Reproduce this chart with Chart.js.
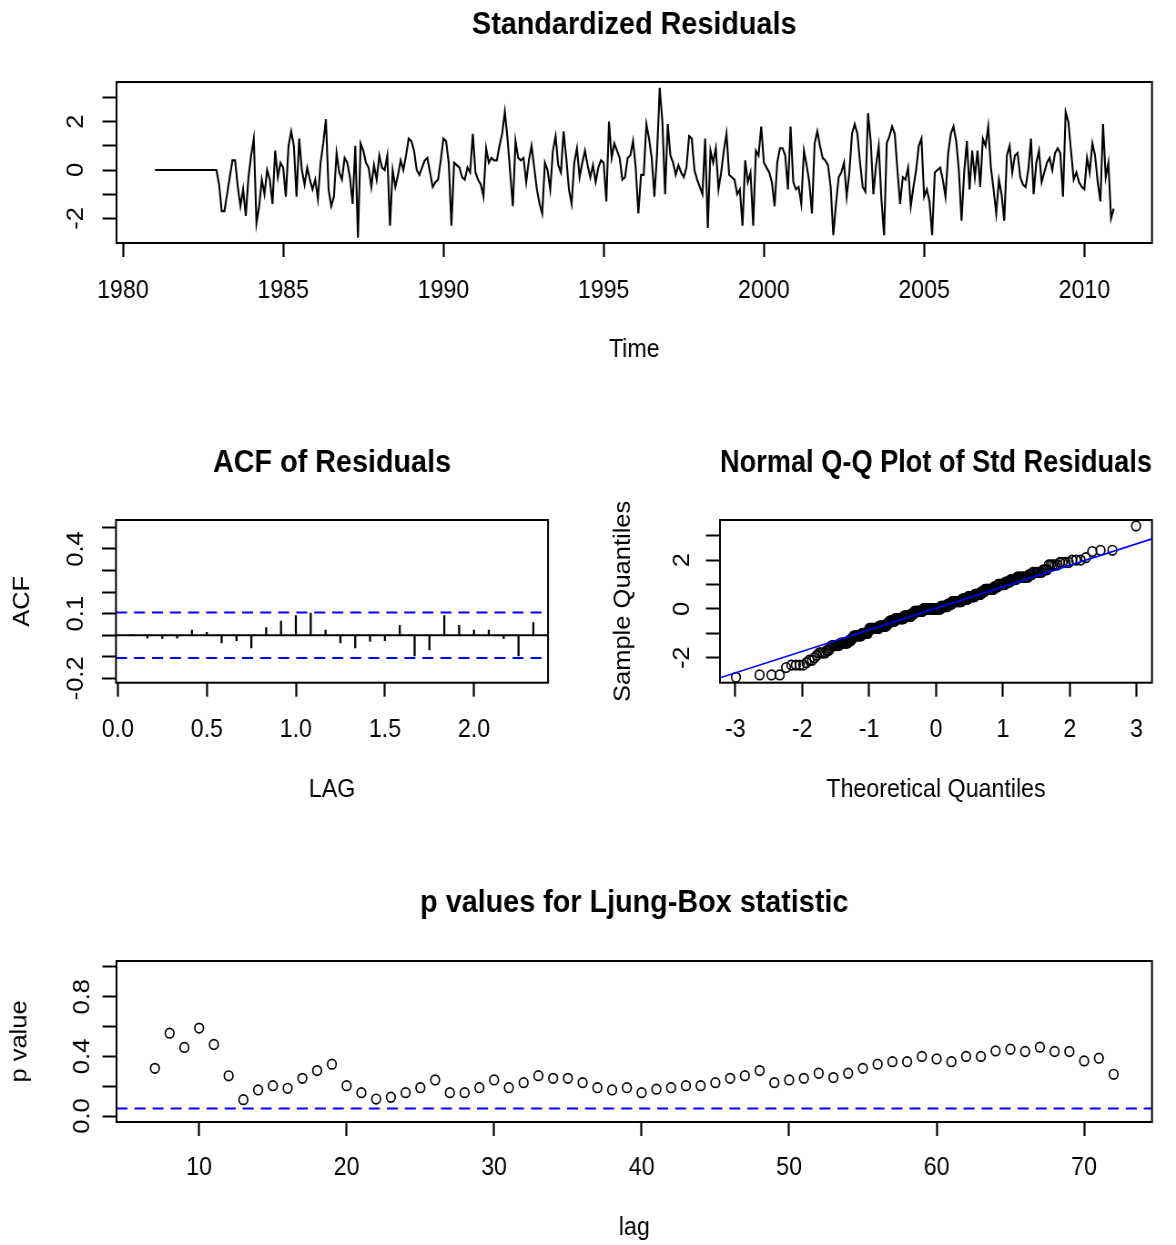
<!DOCTYPE html>
<html>
<head>
<meta charset="utf-8">
<title>Residual diagnostics</title>
<script src="https://cdn.jsdelivr.net/npm/chart.js@4.4.1/dist/chart.umd.min.js"></script>
<style>
    html, body { margin: 0; padding: 0; background: #fff; overflow: hidden; }
    #page { position: relative; width: 1176px; height: 1245px; }
    #page canvas { position: absolute; }
</style>
</head>
<body>
<div id="page">
    <canvas id="resChart" width="1292" height="400" style="left:0;top:0;width:1176px;height:400px"></canvas>
    <canvas id="acfChart" width="646" height="440" style="left:0;top:400px;width:588px;height:440px"></canvas>
    <canvas id="qqChart" width="646" height="440" style="left:588px;top:400px;width:588px;height:440px"></canvas>
    <canvas id="lbChart" width="1292" height="405" style="left:0;top:840px;width:1176px;height:405px"></canvas>
</div>
<script>
// Standardized residuals, monthly from Jan 1981
const resStart = 1981;
const resFreq = 12;
const res1981to1985 = [0, 0, 0, 0, 0, 0, 0, 0, 0, 0, 0, 0, 0, 0, 0, 0, 0, 0, 0, 0, 0, 0, 0, 0,
    -0.6, -1.7, -1.7, -1.0, -0.3, 0.4, 0.4, -0.7, -1.5, -0.8, -1.9, -0.3, 0.6, 1.3, -2.2, -1.5, -0.4, -1.0,
    0.0, -0.4, -1.4, 0.8, -0.3, 0.3, 0.1, -1.1, 1.0, 1.6, 1.0, -1.1, 1.3, 0.0, -0.6, 0.1, -0.4, -0.8];
const res1986to1990 = [-0.4, -1.2, 0.3, 1.1, 2.1,
    -0.8, -1.5, -1.1, 0.7, -0.1, -0.4, 0.5, 0.3, -0.3, -1.4, 1.0, -2.8, 1.1, 0.8, 0.3, 0.1, -0.7, 0.2, -0.4, 0.6,
    0.1, 0.0, 0.6, -2.3, 0.0, -0.7, -0.2, 0.4, 0.0, 0.6, 1.3, 1.2, 0.8, 0.0, -0.2, 0.1, 0.4, 0.5, -0.1, -0.7,
    -0.5, -0.4, 0.4, 1.3, 1.2, 0.3, -2.3, 0.3, 0.2, 0.1, -0.3, -0.4, 0.1, -0.1, 1.5];
const res1991to1995 = [-0.1, -0.4, -0.6, -1.1, 0.9, 0.3, 0.5, 0.4, 0.4, 1.0, 1.5, 2.4,
    1.3, -0.1, -1.5, 1.2, 0.5, 0.4, 0.5, -0.5, 0.4, 1.0, 0.1, -0.8, -1.4, -1.8, 0.3, 0.0, -0.8, 0.8, 1.4, 0.2,
    -0.1, 1.6, 0.5, -0.8, -1.4, 0.3, 0.9, -0.3, 0.3, 0.8, 0.2, -0.3, 0.2, -0.5, 0.1, 0.4, 0.3, -1.3, 2.0, 0.5,
    1.1, 0.8, 0.5, -0.4, -0.3, 0.5, 0.6, 1.2];
const res1996to2000 = [0.1, -1.8, -0.2, -0.2, 1.9, 1.3, 0.5, -1.1, 0.7, 3.4, 2.0, -1.0, 1.9, 0.6, 0.3, -0.2, 0.2, -0.1, -0.3,
    0.1, 1.4, 1.3, 0.0, -0.4, -0.7, -1.0, 1.3, -2.4, 0.8, 0.3, 0.9, -0.8, -0.1, 0.8, 1.5, -0.2, -0.3, -0.4, -1.0,
    -0.8, -2.3, 0.4, -0.5, -0.1, -2.3, 0.8, 0.6, 1.8, 0.3, 0.1, -0.1, -0.5, -1.5, 0.3, 0.9, 0.9, 0.6, -0.8, 1.8, -0.5];
const res2001to2005 = [-0.8, -0.7, -1.4, 0.8, 0.2, -0.5, -1.8, 1.1, 1.6, 1.0, 0.5, 0.4, 0.2, -0.7, -2.7, -1.4, -0.3, -0.1, 0.3,
    -1.1, -0.1, 1.5, 1.9, 1.5, 0.3, -0.7,
    -0.9, 2.35, 1.2, -1.0, 0.2, 1.0, -1.2, -2.7, 1.1, 1.4, 1.8, 1.5, 0.0, -1.4, -0.3, -0.4, 0.1, -1.5, -0.7, 0.0,
    1.0, 1.3, -1.1, -0.8, -1.3, -2.7, -0.1, 0.0, 0.1, -0.4, -1.1, 0.7, 1.5, 1.8];
const res2006to2010 = [1.2, 0.0, -2.1, -0.1, 1.2, -0.8, 0.8, -0.3, 0.8, -0.7, 1.3, 1.0, 1.8, 0.1, -0.8, -1.8, -0.4, -1.0, -2.1,
    0.6, 1.0, -0.1, 0.6, 0.7, -0.3, -0.6, -0.7, 0.0, 1.3, -1.0, 0.3,
    0.8, -0.5, -0.1, 0.3, 0.5, 0.0, 0.7, 0.9, 0.7, -1.1, 2.4, 2.0, 0.8, -0.4, -0.1, -0.5, -0.7, -0.8, 0.5, -0.1,
    1.1, 0.6, -0.5, -1.3, 1.9, -0.3, 0.3, -2.0, -1.6];
const resYearTicks = [1980, 1985, 1990, 1995, 2000, 2005, 2010];
const resValueTicks = [-2, -1, 0, 1, 2, 3];
const resValueLabels = ['-2', '', '0', '', '2', ''];

// ACF of residuals (lags in months, drawn in years)
const acfLags = [1, 2, 3, 4, 5, 6, 7, 8, 9, 10, 11, 12, 13, 14, 15, 16, 17, 18, 19, 20, 21, 22, 23, 24, 25, 26, 27, 28];
const acfValues = [0.004, -0.015, -0.018, -0.015, 0.025, 0.015, -0.037, -0.027, -0.06, 0.037, 0.067, 0.093, 0.104, 0.025,
    -0.037, -0.06, -0.03, -0.027, 0.048, -0.097, -0.07, 0.093, 0.048, 0.025, 0.025, -0.018, -0.097, 0.06];
const acfBound = 0.105;
const acfLagTicks = [0, 0.5, 1, 1.5, 2];
const acfLagLabels = ['0.0', '0.5', '1.0', '1.5', '2.0'];
const acfValueTicks = [-0.2, -0.1, 0, 0.1, 0.2, 0.3, 0.4, 0.5];
const acfValueLabels = ['-0.2', '', '', '0.1', '', '', '0.4', ''];

// Normal Q-Q plot
const qqTicks = [-3, -2, -1, 0, 1, 2, 3];
const qqValueTicks = [-2, -1, 0, 1, 2, 3];
const qqValueLabels = ['-2', '', '0', '', '2', ''];
const qqIntercept = 0.025;
const qqSlope = 0.88;

// Ljung-Box p values
const lbLags = [7, 8, 9, 10, 11, 12, 13, 14, 15, 16, 17, 18, 19, 20, 21, 22, 23, 24, 25, 26, 27, 28, 29, 30, 31, 32, 33,
    34, 35, 36, 37, 38, 39, 40, 41, 42, 43, 44, 45, 46, 47, 48, 49, 50, 51, 52, 53, 54, 55, 56, 57, 58, 59, 60,
    61, 62, 63, 64, 65, 66, 67, 68, 69, 70, 71, 72];
const lbPValues = [0.32, 0.556, 0.46, 0.59, 0.48, 0.27, 0.11, 0.175, 0.204, 0.186, 0.253, 0.305, 0.348, 0.204,
    0.157, 0.114, 0.126, 0.157, 0.19, 0.242, 0.157, 0.157, 0.19, 0.242, 0.19, 0.224, 0.271, 0.253, 0.253, 0.224,
    0.19, 0.175, 0.19, 0.157, 0.18, 0.19, 0.204, 0.204, 0.224, 0.253, 0.271, 0.305, 0.224, 0.242, 0.253, 0.287,
    0.258, 0.287, 0.32, 0.348, 0.365, 0.365, 0.40, 0.383, 0.365, 0.40, 0.40, 0.437, 0.448, 0.433, 0.462, 0.433,
    0.433, 0.37, 0.388, 0.28];
const lbSignif = 0.05;
const lbLagTicks = [10, 20, 30, 40, 50, 60, 70];
const lbValueTicks = [0, 0.2, 0.4, 0.6, 0.8, 1.0];
const lbValueLabels = ['0.0', '', '0.4', '', '0.8', ''];


// the reference is a bit squeezed sideways, so every canvas is drawn wider and shown at ~91% width
Chart.defaults.font.family = "'Liberation Sans', Arial, Helvetica, sans-serif";
Chart.defaults.color = '#000';

const TICK_FONT = 25.5;
const DASH = [12.1, 7.7];

const plotBox = {
    id: 'plotBox',
    afterDraw(chart) {
        const { ctx, chartArea: a } = chart;
        ctx.save();
        ctx.strokeStyle = '#000';
        ctx.lineWidth = 2;
        ctx.strokeRect(a.left, a.top, a.right - a.left, a.bottom - a.top);
        ctx.restore();
    }
};

// horizontal reference lines and the qq line, placed through the chart scales
const refLines = {
    id: 'refLines',
    afterDatasetsDraw(chart, args, opts) {
        const { ctx, chartArea: a, scales: { x, y } } = chart;
        ctx.save();
        ctx.beginPath();
        ctx.rect(a.left, a.top, a.right - a.left, a.bottom - a.top);
        ctx.clip();
        (opts.lines || []).forEach(l => {
            const py = y.getPixelForValue(l.value);
            ctx.beginPath();
            ctx.strokeStyle = l.color;
            ctx.lineWidth = l.width;
            ctx.setLineDash(l.dash || []);
            ctx.moveTo(a.left, py);
            ctx.lineTo(a.right, py);
            ctx.stroke();
        });
        if (opts.abline) {
            const { intercept, slope } = opts.abline;
            ctx.beginPath();
            ctx.setLineDash([]);
            ctx.strokeStyle = '#0000ff';
            ctx.lineWidth = 1.6;
            ctx.moveTo(x.getPixelForValue(x.min), y.getPixelForValue(intercept + slope * x.min));
            ctx.lineTo(x.getPixelForValue(x.max), y.getPixelForValue(intercept + slope * x.max));
            ctx.stroke();
        }
        ctx.restore();
    }
};

Chart.register(plotBox, refLines);

function fixedTicks(values) {
    return scale => { scale.ticks = values.map(v => ({ value: v })); };
}

function titleOpts(text, top, bottom) {
    return {
        display: true, text: text, fullSize: false, color: '#000',
        font: { size: 31.6, weight: 'bold' },
        padding: { top: top, bottom: bottom }
    };
}

function xAxis(min, max, ticks, labels, o) {
    return {
        type: 'linear', position: 'bottom', min: min, max: max, offset: false,
        afterBuildTicks: fixedTicks(ticks),
        afterFit: s => { s.height = o.height; },
        grid: { offset: false, drawOnChartArea: false, drawTicks: true, tickLength: 14, tickWidth: 2.2, tickColor: '#000' },
        border: { display: false },
        ticks: {
            autoSkip: false, maxRotation: 0, minRotation: 0, padding: o.pad,
            font: { size: TICK_FONT }, color: '#000',
            callback: (v, i) => labels[i]
        },
        title: {
            display: true, text: o.title, color: '#000', font: { size: TICK_FONT },
            padding: { top: 0, bottom: o.titlePad }
        }
    };
}

function yAxis(min, max, ticks, labels, o) {
    return {
        type: 'linear', position: 'left', min: min, max: max,
        afterBuildTicks: fixedTicks(ticks),
        afterFit: s => { s.width = o.width; },
        grid: { drawOnChartArea: false, drawTicks: true, tickLength: 15.4, tickWidth: 2, tickColor: '#000' },
        border: { display: false },
        ticks: {
            autoSkip: false, minRotation: 90, maxRotation: 90, crossAlign: 'center', padding: o.pad,
            font: { size: TICK_FONT }, color: '#000',
            callback: (v, i) => labels[i]
        },
        title: {
            display: !!o.title, text: o.title || '', color: '#000', font: { size: TICK_FONT },
            padding: { top: o.titlePad || 0, bottom: 0 }
        }
    };
}

function baseOptions(right, title, scales, extra) {
    return {
        responsive: false,
        animation: false,
        devicePixelRatio: 1,
        events: [],
        layout: { padding: { left: 0, right: right, top: 0, bottom: 0 } },
        plugins: Object.assign({
            legend: { display: false },
            tooltip: { enabled: false },
            title: title
        }, extra || {}),
        scales: scales
    };
}

// inverse normal cdf (Acklam), used for the theoretical quantiles like qqnorm
function qnorm(p) {
    const a = [-3.969683028665376e+01, 2.209460984245205e+02, -2.759285104469687e+02, 1.383577518672690e+02, -3.066479806614716e+01, 2.506628277459239e+00];
    const b = [-5.447609879822406e+01, 1.615858368580409e+02, -1.556989798598866e+02, 6.680131188771972e+01, -1.328068155288572e+01];
    const c = [-7.784894002430293e-03, -3.223964580411365e-01, -2.400758277161838e+00, -2.549732539343734e+00, 4.374664141464968e+00, 2.938163982698783e+00];
    const d = [7.784695709041462e-03, 3.224671290700398e-01, 2.445134137142996e+00, 3.754408661907416e+00];
    const plow = 0.02425;
    let q, r;
    if (p < plow) {
        q = Math.sqrt(-2 * Math.log(p));
        return (((((c[0] * q + c[1]) * q + c[2]) * q + c[3]) * q + c[4]) * q + c[5]) /
            ((((d[0] * q + d[1]) * q + d[2]) * q + d[3]) * q + 1);
    }
    if (p > 1 - plow) {
        q = Math.sqrt(-2 * Math.log(1 - p));
        return -(((((c[0] * q + c[1]) * q + c[2]) * q + c[3]) * q + c[4]) * q + c[5]) /
            ((((d[0] * q + d[1]) * q + d[2]) * q + d[3]) * q + 1);
    }
    q = p - 0.5;
    r = q * q;
    return (((((a[0] * r + a[1]) * r + a[2]) * r + a[3]) * r + a[4]) * r + a[5]) * q /
        (((((b[0] * r + b[1]) * r + b[2]) * r + b[3]) * r + b[4]) * r + 1);
}

const residuals = [].concat(res1981to1985, res1986to1990, res1991to1995, res1996to2000, res2001to2005, res2006to2010);
const resPoints = residuals.map((v, i) => ({ x: resStart + i / resFreq, y: v }));
const acfPoints = acfLags.map((k, i) => ({ x: k / resFreq, y: acfValues[i] }));
const sortedRes = residuals.slice().sort((a, b) => a - b);
const qqPoints = sortedRes.map((v, i) => ({ x: qnorm((i + 0.5) / sortedRes.length), y: v }));
const lbPoints = lbLags.map((k, i) => ({ x: k, y: lbPValues[i] }));

const circle = {
    showLine: false, pointStyle: 'circle', pointRadius: 4.8, pointBorderWidth: 1.7,
    pointBorderColor: '#000', pointBackgroundColor: 'rgba(0,0,0,0)'
};

// Standardized residuals
new Chart(document.getElementById('resChart'), {
    type: 'line',
    data: {
        datasets: [{ data: resPoints, borderColor: '#000', borderWidth: 2.1, pointRadius: 0, tension: 0, fill: false }]
    },
    options: baseOptions(26.4, titleOpts('Standardized Residuals', 6.8, 37.3), {
        x: xAxis(1979.80, 2012.11, resYearTicks, resYearTicks.map(String), { height: 157, pad: 18.7, title: 'Time', titlePad: 34.7 }),
        y: yAxis(-3.02, 3.64, resValueTicks, resValueLabels, { width: 128, pad: 17 })
    })
});

// ACF of residuals
new Chart(document.getElementById('acfChart'), {
    type: 'bar',
    data: {
        datasets: [{ data: acfPoints, backgroundColor: '#000', barThickness: 2.3, inflateAmount: 0 }]
    },
    options: baseOptions(43.9, titleOpts('ACF of Residuals', 44.4, 37.7), {
        x: xAxis(-0.01, 2.416, acfLagTicks, acfLagLabels, { height: 157.3, pad: 18, title: 'LAG', titlePad: 34.7 }),
        y: yAxis(-0.22, 0.534, acfValueTicks, acfValueLabels, { width: 127.4, pad: 5.6, title: 'ACF', titlePad: 9.2 })
    }, {
        refLines: {
            lines: [
                { value: 0, color: '#000', width: 2 },
                { value: acfBound, color: '#0000ff', width: 2, dash: DASH },
                { value: -acfBound, color: '#0000ff', width: 2, dash: DASH }
            ]
        }
    })
});

// Normal Q-Q plot of std residuals
new Chart(document.getElementById('qqChart'), {
    type: 'scatter',
    data: { datasets: [Object.assign({ data: qqPoints }, circle)] },
    options: baseOptions(26.4, titleOpts('Normal Q-Q Plot of Std Residuals', 44.4, 37.7), {
        x: xAxis(-3.23, 3.23, qqTicks, qqTicks.map(String), { height: 157.3, pad: 18, title: 'Theoretical Quantiles', titlePad: 34.7 }),
        y: yAxis(-3.02, 3.64, qqValueTicks, qqValueLabels, { width: 145, pad: 14.3, title: 'Sample Quantiles', titlePad: 23.7 })
    }, {
        refLines: { abline: { intercept: qqIntercept, slope: qqSlope } }
    })
});

// p values for Ljung-Box statistic
new Chart(document.getElementById('lbChart'), {
    type: 'scatter',
    data: { datasets: [Object.assign({ data: lbPoints }, circle)] },
    options: baseOptions(26.4, titleOpts('p values for Ljung-Box statistic', 44.4, 38.7), {
        x: xAxis(4.4, 74.6, lbLagTicks, lbLagTicks.map(String), { height: 123, pad: 16.7, title: 'lag', titlePad: 1.7 }),
        y: yAxis(-0.04, 1.04, lbValueTicks, lbValueLabels, { width: 128, pad: 4.3, title: 'p value', titlePad: 6.7 })
    }, {
        refLines: {
            lines: [{ value: lbSignif, color: '#0000ff', width: 2, dash: DASH }]
        }
    })
});
</script>
</body>
</html>
